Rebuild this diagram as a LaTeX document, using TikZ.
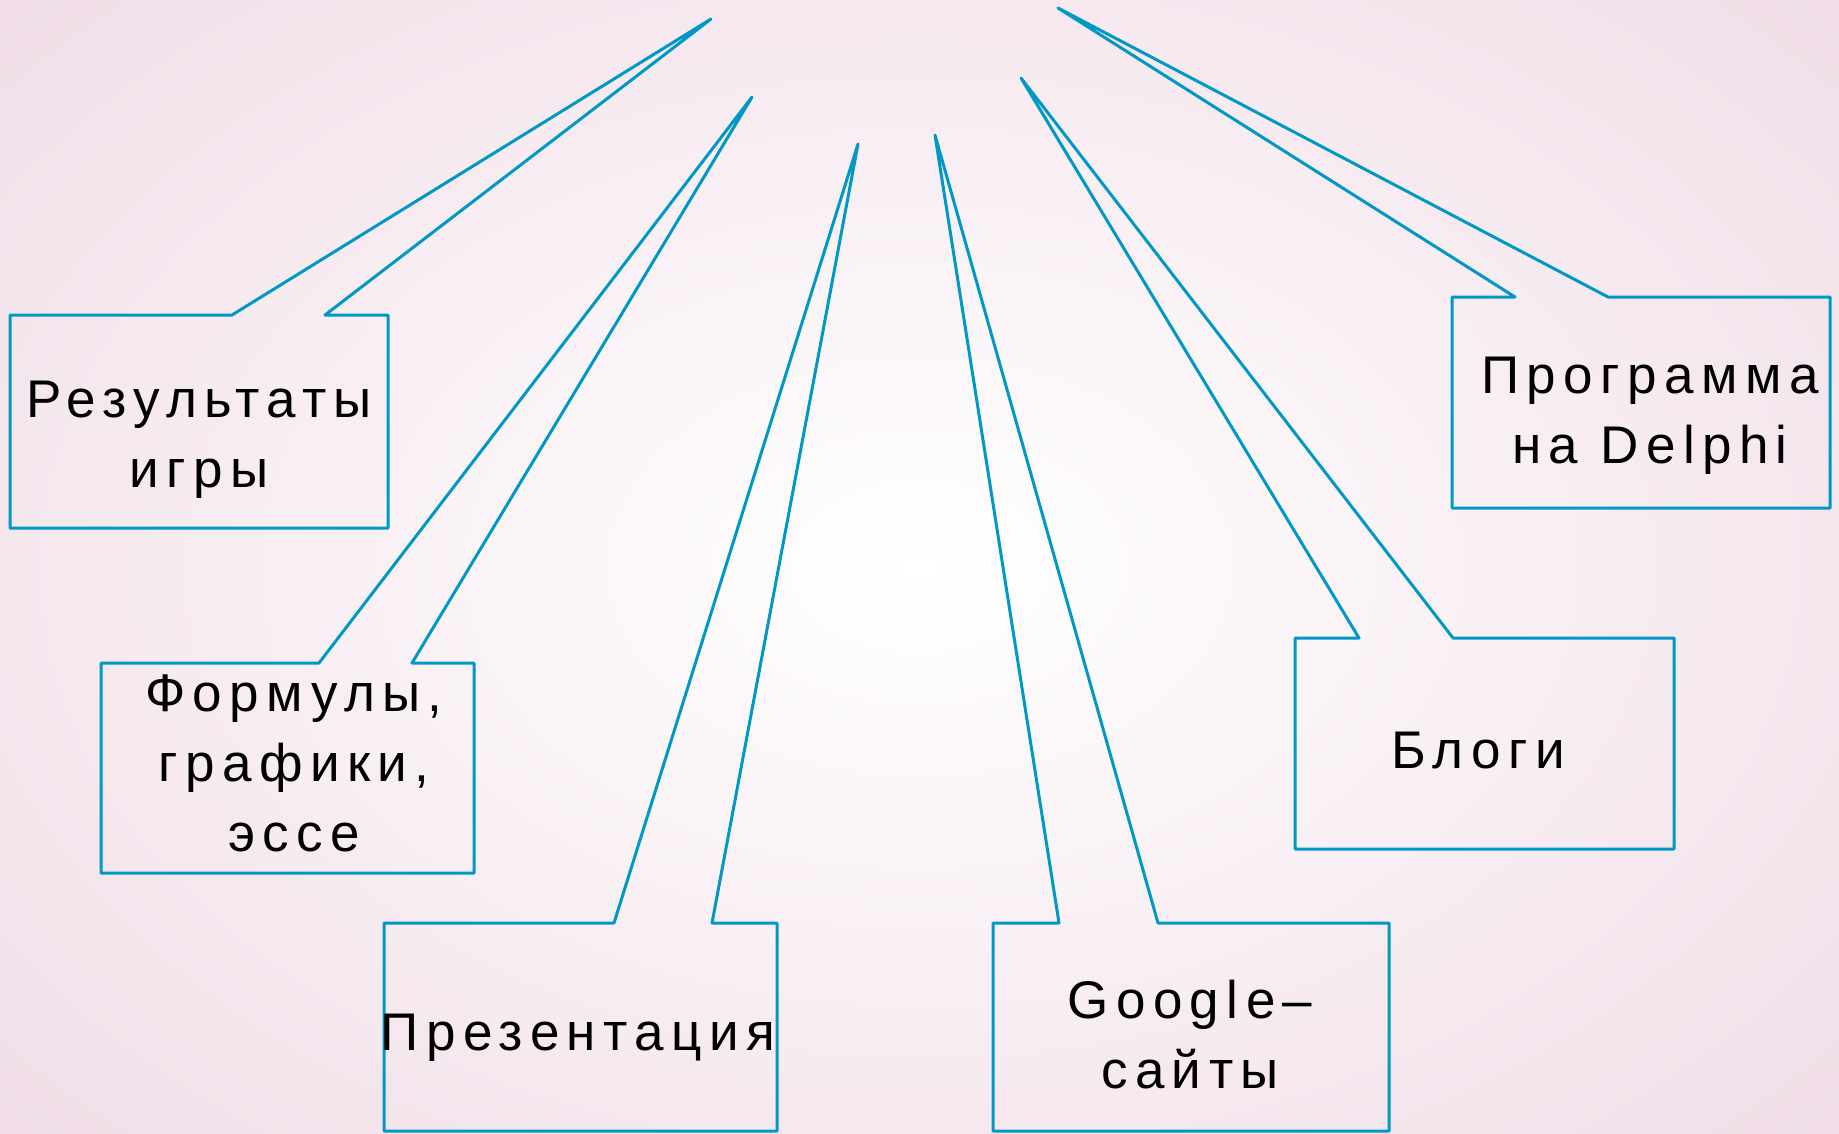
\documentclass[tikz,border=0pt]{standalone}
\usepackage{fontspec}
\newfontfamily\labelfont[LetterSpace=14]{Liberation Sans}
\definecolor{calloutblue}{RGB}{0,153,198}
\definecolor{bgpink}{RGB}{241,222,232}
\begin{document}
\begin{tikzpicture}[x=1pt, y=-1pt,
      callout/.style={draw=calloutblue, line width=3pt, line join=round, line cap=round},
      every node/.style={font=\labelfont\fontsize{53}{70}\selectfont, align=center, anchor=base, inner sep=0pt}]

    % fond
    \useasboundingbox (0,0) rectangle (1839,1133);
    \clip (0,0) rectangle (1839,1133);
    \shade[inner color=white, outer color=bgpink] (-320,-260) rectangle (2159,1393);

    % 1. Cadres des bulles : nom/gauche/haut/droite/bas/début de l'ouverture/fin/pointe
    \foreach \n/\l/\t/\r/\b/\ga/\gb/\px/\py in {
        res/10/315/388/528/232/325/711/19,
        form/101/663/474/873/319/412/752/97,
        pres/384/923/777/1131/614/712/858/144,
        goog/993/923/1389/1131/1059/1158/935/135,
        blog/1295/638/1674/849/1359/1453/1021/78,
        delph/1452/297/1830/508/1515/1608/1058/8} {
      \coordinate (\n tip) at (\px,\py);       % pointe de la bulle
      \draw[callout] (\n tip) -- (\gb,\t) -- (\r,\t) -- (\r,\b) -- (\l,\b) -- (\l,\t) -- (\ga,\t) -- cycle;
    }

    % 2. Textes (ancre = ligne de base de la dernière ligne)
    \node (res)   at (199,487)  {Результаты\\игры};
    \node (form)  at (294,851)  {Формулы,\\графики,\\эссе};
    \node (pres)  at (578,1050) {Презентация};
    \node (goog)  at (1190,1088) {Google–\\сайты};
    \node (blog)  at (1478,768) {Блоги};
    \node (delph) at (1650,463) {Программа\\на Delphi};

    \end{tikzpicture}
\end{document}
